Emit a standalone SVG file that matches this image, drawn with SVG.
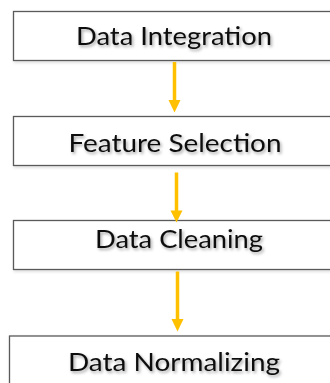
<svg xmlns="http://www.w3.org/2000/svg" width="330" height="383" viewBox="0 0 330 383">
  <style>
    .box { fill: #ffffff; stroke: #5a5a5a; stroke-width: 1.3; }
    .label { font-family: Lato, "Open Sans", "Liberation Sans", sans-serif; font-size: 25px; fill: #111111; text-anchor: middle; filter: url(#txtShadow); }
    .flow { stroke: #ffc000; stroke-width: 3.5; fill: none; }
    .head { fill: #ffc000; }
  </style>
  <defs>
    <filter id="txtShadow" x="-10%" y="-30%" width="120%" height="170%">
      <feDropShadow dx="1.5" dy="2" stdDeviation="1.6" flood-color="#000000" flood-opacity="0.35"/>
    </filter>
    <filter id="boxShadow" x="-5%" y="-20%" width="110%" height="150%">
      <feDropShadow dx="1" dy="1.5" stdDeviation="1.5" flood-color="#000000" flood-opacity="0.15"/>
    </filter>
  </defs>
  <rect width="330" height="383" fill="#ffffff"/>

  <g id="data-integration">
    <rect class="box" x="13.5" y="11.5" width="330" height="49" filter="url(#boxShadow)"/>
    <text class="label" x="174" y="45" textLength="196" lengthAdjust="spacingAndGlyphs">Data Integration</text>
  </g>

  <g id="feature-selection">
    <rect class="box" x="13.5" y="116.5" width="330" height="49" filter="url(#boxShadow)"/>
    <text class="label" x="175" y="151.5" textLength="213" lengthAdjust="spacingAndGlyphs">Feature Selection</text>
  </g>

  <g id="data-cleaning">
    <rect class="box" x="13.5" y="220.5" width="330" height="49" filter="url(#boxShadow)"/>
    <text class="label" x="179" y="248" textLength="168" lengthAdjust="spacingAndGlyphs">Data Cleaning</text>
  </g>

  <g id="data-normalizing">
    <rect class="box" x="9.5" y="336" width="334" height="60" filter="url(#boxShadow)"/>
    <text class="label" x="174" y="371" textLength="212" lengthAdjust="spacingAndGlyphs">Data Normalizing</text>
  </g>

  <g id="connectors">
    <line class="flow" x1="174.5" y1="62" x2="174.5" y2="101"/>
    <polygon class="head" points="168.5,100 180.5,100 174.5,112.5"/>
    <line class="flow" x1="176.5" y1="172.5" x2="176.5" y2="211"/>
    <polygon class="head" points="170.5,210.5 182.5,210.5 176.5,222.5"/>
    <line class="flow" x1="177.5" y1="271.5" x2="177.5" y2="320"/>
    <polygon class="head" points="171.5,319 183.5,319 177.5,331.5"/>
  </g>
</svg>
